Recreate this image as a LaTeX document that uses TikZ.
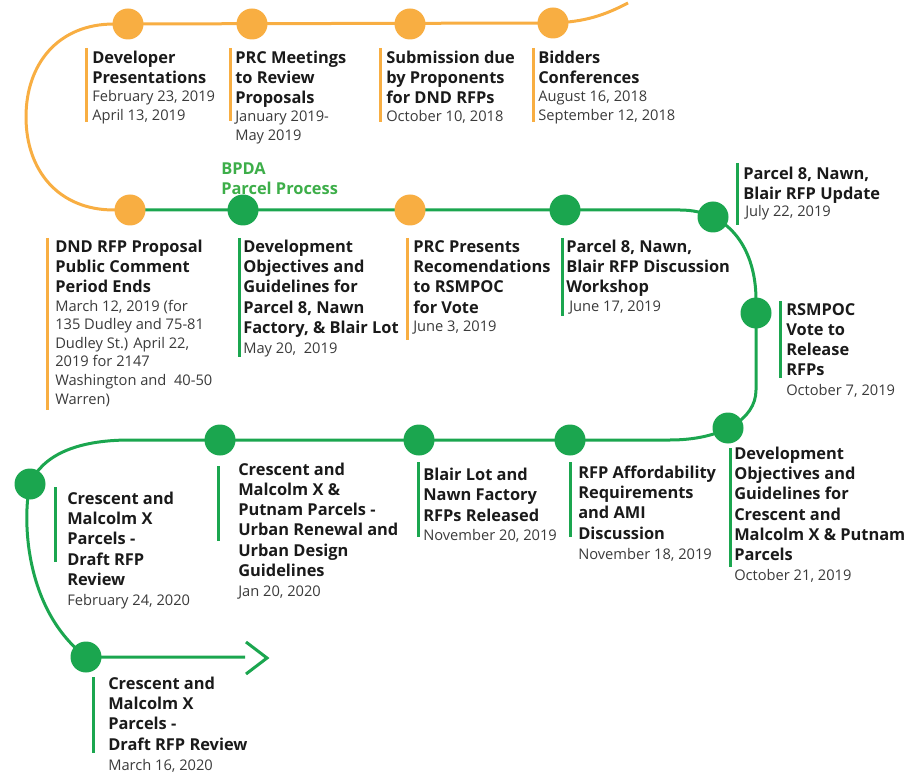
\documentclass[tikz,border=0pt]{standalone}
\usepackage{fontspec}
\setmainfont{Open Sans}
\definecolor{orng}{HTML}{F8AE42}
\definecolor{grn}{HTML}{1BA64F}
\definecolor{lgrn}{HTML}{3DAE49}
\definecolor{ttl}{HTML}{1A1A1A}
\definecolor{dte}{HTML}{3A3A3A}
\tikzset{
  dot/.style={circle, minimum size=23.25pt, inner sep=0pt, fill=#1, draw=none},
  track/.style={line width=2.25pt, draw=#1},
  barline/.style={line width=2.25pt, draw=#1},
  ttlnode/.style={anchor=base west, align=left, inner sep=0pt, text=ttl,
    font=\fontsize{12.3}{15.2}\selectfont\bfseries},
  datenode/.style={anchor=base west, align=left, inner sep=0pt, text=dte,
    font=\fontsize{11}{13.9}\selectfont},
}
\begin{document}
\begin{tikzpicture}[x=0.75pt,y=-0.75pt]
\useasboundingbox (0,0) rectangle (923,773);

% ---- track coordinates
\coordinate (topend) at (628,3);
\coordinate (arcA) at (114,24);
\coordinate (arcL) at (26,117);
\coordinate (arcB) at (114,210);
\coordinate (rA) at (680,210);
\coordinate (rB) at (756,300);
\coordinate (rC) at (756,390);
\coordinate (rD) at (670,440);
\coordinate (lA) at (130,440);
\coordinate (arrowend) at (245,657);
\coordinate (chevA) at (246,642);
\coordinate (chevT) at (267,658);
\coordinate (chevB) at (246,674);

% ---- circles (positions)
\coordinate (po1) at (128,24);
\coordinate (po2) at (252,24);
\coordinate (po3) at (410,24);
\coordinate (po4) at (553,23);
\coordinate (po5) at (130,210);
\coordinate (pg1) at (243,210);
\coordinate (po6) at (410,210);
\coordinate (pg2) at (565,210);
\coordinate (pg3) at (713,217);
\coordinate (pg4) at (756,313);
\coordinate (pg5) at (728,428);
\coordinate (pg6) at (570,440);
\coordinate (pg7) at (419,440);
\coordinate (pg8) at (220,440);
\coordinate (pg9) at (30,484);
\coordinate (pg10) at (86,657);

% ---- orange track
\draw[track=orng] (po4) .. controls (585,22) and (605,15) .. (topend);
\draw[track=orng] (po4) -- (arcA) .. controls (58,24) and (26,64) .. (arcL)
  .. controls (26,170) and (58,210) .. (arcB) -- (po5);
% ---- green track
\draw[track=grn] (po5) -- (rA) .. controls (730,210) and (756,250) .. (rB)
  -- (rC) .. controls (756,420) and (720,440) .. (rD) -- (lA)
  .. controls (75,440) and (42,456) .. (pg9)
  .. controls (22,520) and (25,610) .. (pg10) -- (arrowend);
\draw[track=grn, line join=miter] (chevA) -- (chevT) -- (chevB);

% ---- circles
\node[dot=orng] (o1) at (po1) {};
\node[dot=orng] (o2) at (po2) {};
\node[dot=orng] (o3) at (po3) {};
\node[dot=orng] (o4) at (po4) {};
\node[dot=orng] (o5) at (po5) {};
\node[dot=grn] (g1) at (pg1) {};
\node[dot=orng] (o6) at (po6) {};
\node[dot=grn] (g2) at (pg2) {};
\node[dot=grn] (g3) at (pg3) {};
\node[dot=grn] (g4) at (pg4) {};
\node[dot=grn] (g5) at (pg5) {};
\node[dot=grn] (g6) at (pg6) {};
\node[dot=grn] (g7) at (pg7) {};
\node[dot=grn] (g8) at (pg8) {};
\node[dot=grn] (g9) at (pg9) {};
\node[dot=grn] (g10) at (pg10) {};

% ---- label bars
\draw[barline=orng] (86,48) -- (86,122);
\draw[barline=orng] (230,48) -- (230,121);
\draw[barline=orng] (380,48) -- (380,122);
\draw[barline=orng] (533,48) -- (533,122);
\draw[barline=grn] (737,163) -- (737,225);
\draw[barline=orng] (47.5,238) -- (47.5,410);
\draw[barline=grn] (239,238) -- (239,357);
\draw[barline=orng] (407.5,238) -- (407.5,340);
\draw[barline=grn] (562,238) -- (562,316);
\draw[barline=grn] (780,301) -- (780,378);
\draw[barline=grn] (55,487) -- (55,562);
\draw[barline=grn] (218.5,466) -- (218.5,541);
\draw[barline=grn] (418.5,462) -- (418.5,537);
\draw[barline=grn] (570,462) -- (570,537);
\draw[barline=grn] (730,448) -- (730,567);
\draw[barline=grn] (93.5,677) -- (93.5,753);

% ---- texts (anchor = baseline of the LAST line)
\node[ttlnode] (t1) at (92,83.8) {Developer\\Presentations};
\node[datenode] (d1) at (92,120.2) {February 23, 2019\\April 13, 2019};

\node[ttlnode] (t2) at (235,104) {PRC Meetings\\to Review\\Proposals};
\node[datenode] (d2) at (235,140.2) {January 2019-\\May 2019};

\node[ttlnode] (t3) at (386,104) {Submission due\\by Proponents\\for DND RFPs};
\node[datenode] (d3) at (386,121.7) {October 10, 2018};

\node[ttlnode] (t4) at (538,83.8) {Bidders\\Conferences};
\node[datenode] (d4) at (538,120.2) {August 16, 2018\\September 12, 2018};

\node[ttlnode, text=lgrn] (bpda) at (221,194.3) {BPDA\\Parcel Process};

\node[ttlnode] (t6) at (743,199.3) {Parcel 8, Nawn,\\Blair RFP Update};
\node[datenode] (d6) at (745,216.7) {July 22, 2019};

\node[ttlnode] (t7) at (55,292.8) {DND RFP Proposal\\Public Comment\\Period Ends};
\node[datenode] (d7) at (55,404) {March 12, 2019 (for\\135 Dudley and 75-81\\Dudley St.) April 22,\\2019 for 2147\\Washington and\ \ 40-50\\Warren)};

\node[ttlnode] (t8) at (243,333.4) {Development\\Objectives and\\Guidelines for\\Parcel 8, Nawn\\Factory, \& Blair Lot};
\node[datenode] (d8) at (243,353.3) {May 20,\ \ 2019};

\node[ttlnode] (t9) at (413,313.1) {PRC Presents\\Recomendations\\to RSMPOC\\for Vote};
\node[datenode] (d9) at (413,331.7) {June 3, 2019};

\node[ttlnode] (t10) at (566,292.8) {Parcel 8, Nawn,\\Blair RFP Discussion\\Workshop};
\node[datenode] (d10) at (569,311.7) {June 17, 2019};

\node[ttlnode] (t11) at (786,375.8) {RSMPOC\\Vote to\\Release\\RFPs};
\node[datenode] (d11) at (786,395) {October 7, 2019};

\node[ttlnode] (t12) at (67,585.4) {Crescent and\\Malcolm X\\Parcels -\\Draft RFP\\Review};
\node[datenode] (d12) at (67,605) {February 24, 2020};

\node[ttlnode] (t13) at (238,576.4) {Crescent and\\Malcolm X \&\\Putnam Parcels -\\Urban Renewal and\\Urban Design\\Guidelines};
\node[datenode] (d13) at (238,596.7) {Jan 20, 2020};

\node[ttlnode] (t14) at (423,521.2) {Blair Lot and\\Nawn Factory\\RFPs Released};
\node[datenode] (d14) at (423,540) {November 20, 2019};

\node[ttlnode] (t15) at (578,539.1) {RFP Affordability\\Requirements\\and AMI\\Discussion};
\node[datenode] (d15) at (578,559.3) {November 18, 2019};

\node[ttlnode] (t16) at (734,560.7) {Development\\Objectives and\\Guidelines for\\Crescent and\\Malcolm X \& Putnam\\Parcels};
\node[datenode] (d16) at (734,580) {October 21, 2019};

\node[ttlnode] (t17) at (108,750.1) {Crescent and\\Malcolm X\\Parcels -\\Draft RFP Review};
\node[datenode] (d17) at (108,770) {March 16, 2020};
\end{tikzpicture}
\end{document}
